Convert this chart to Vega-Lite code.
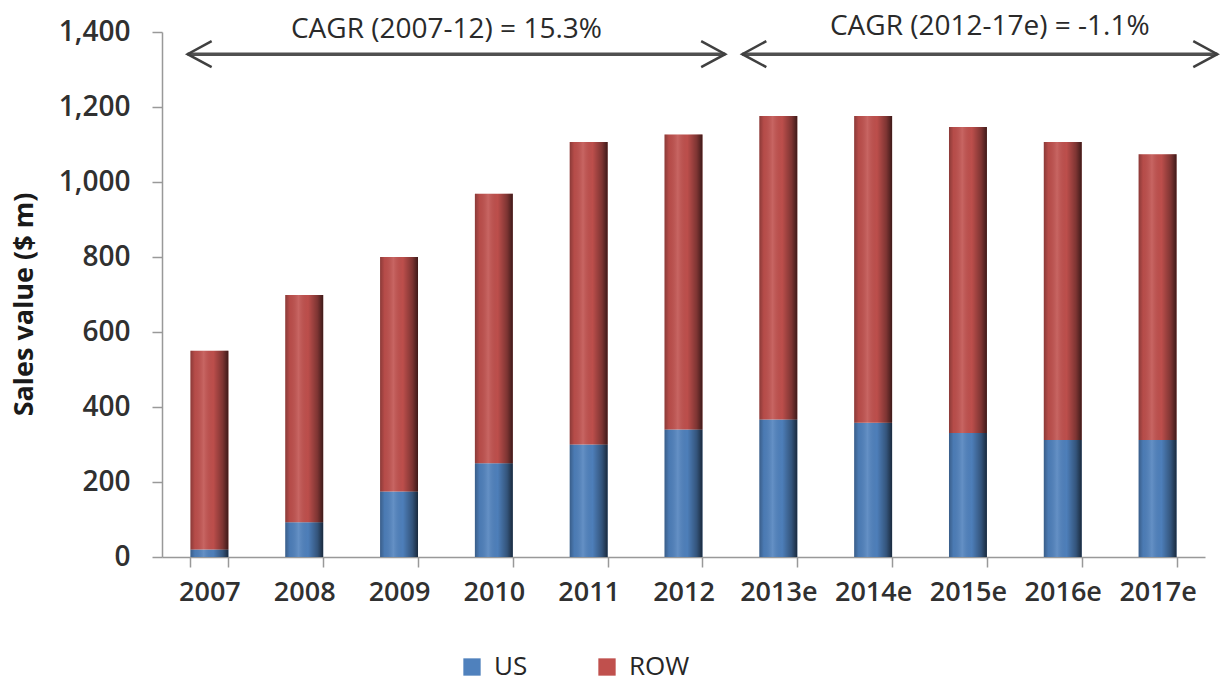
{
  "$schema": "https://vega.github.io/schema/vega-lite/v6.json",
  "width": 1043,
  "height": 525,
  "autosize": {"type": "none"},
  "padding": {"left": 162, "top": 32, "right": 19, "bottom": 134},
  "background": "white",
  "config": {
    "view": {"stroke": null},
    "font": "Open Sans",
    "axis": {"grid": false}
  },
  "datasets": {
    "sales": [
      {"year": "2007", "series": "US", "value": 20},
      {"year": "2007", "series": "ROW", "value": 530},
      {"year": "2008", "series": "US", "value": 93},
      {"year": "2008", "series": "ROW", "value": 606},
      {"year": "2009", "series": "US", "value": 175},
      {"year": "2009", "series": "ROW", "value": 625},
      {"year": "2010", "series": "US", "value": 250},
      {"year": "2010", "series": "ROW", "value": 719},
      {"year": "2011", "series": "US", "value": 300},
      {"year": "2011", "series": "ROW", "value": 807},
      {"year": "2012", "series": "US", "value": 340},
      {"year": "2012", "series": "ROW", "value": 787},
      {"year": "2013e", "series": "US", "value": 367},
      {"year": "2013e", "series": "ROW", "value": 809},
      {"year": "2014e", "series": "US", "value": 358},
      {"year": "2014e", "series": "ROW", "value": 818},
      {"year": "2015e", "series": "US", "value": 331},
      {"year": "2015e", "series": "ROW", "value": 816},
      {"year": "2016e", "series": "US", "value": 312},
      {"year": "2016e", "series": "ROW", "value": 795},
      {"year": "2017e", "series": "US", "value": 312},
      {"year": "2017e", "series": "ROW", "value": 762}
    ],
    "arrows": [
      {"arrow": "a", "pos": 0.27, "y": 1341},
      {"arrow": "a", "pos": 5.94, "y": 1341},
      {"arrow": "b", "pos": 6.12, "y": 1341},
      {"arrow": "b", "pos": 11.13, "y": 1341}
    ],
    "heads": [
      {"pos": 0.27, "y": 1341, "dir": "left"},
      {"pos": 5.94, "y": 1341, "dir": "right"},
      {"pos": 6.12, "y": 1341, "dir": "left"},
      {"pos": 11.13, "y": 1341, "dir": "right"}
    ],
    "labels": [
      {"pos": 3.0, "y": 1405, "text": "CAGR (2007-12) = 15.3%"},
      {"pos": 8.73, "y": 1413, "text": "CAGR (2012-17e) = -1.1%"}
    ]
  },
  "layer": [
    {
      "data": {"name": "sales"},
      "transform": [
        {"stack": "value", "groupby": ["year"], "sort": [{"field": "series", "order": "descending"}], "as": ["v0", "v1"]}
      ],
      "encoding": {
        "x": {
          "field": "year", "type": "nominal",
          "scale": {"paddingInner": 0.6, "paddingOuter": 0.3},
          "axis": {
            "title": null, "labelAngle": 0, "tickBand": "extent",
            "tickSize": 10, "tickColor": "#999", "domainColor": "#999", "domainWidth": 1.5, "tickWidth": 1.5,
            "labelFontSize": 27, "labelFontWeight": 600, "labelColor": "#303030", "labelPadding": 12
          }
        },
        "y": {
          "field": "v1", "type": "quantitative",
          "scale": {"domain": [0, 1400], "nice": false},
          "axis": {
            "title": "Sales value ($ m)", "values": [0, 200, 400, 600, 800, 1000, 1200, 1400], "format": ",.0f",
            "tickSize": 10, "tickColor": "#999", "domainColor": "#999", "domainWidth": 1.5, "tickWidth": 1.5,
            "labelFontSize": 28, "labelFontWeight": 600, "labelColor": "#303030", "labelPadding": 22,
            "titleFontSize": 27, "titleFontWeight": "bold", "titleColor": "#1a1a1a",
            "titleX": -138, "titleY": 272, "titleBaseline": "middle"
          }
        },
        "y2": {"field": "v0"}
      },
      "layer": [
        {
          "mark": {"type": "bar"},
          "encoding": {
            "color": {
              "field": "series", "type": "nominal",
              "scale": {"domain": ["US", "ROW"], "range": ["#4F81BD", "#C0504D"]},
              "legend": {
                "title": null, "orient": "none", "direction": "horizontal",
                "legendX": 297, "legendY": 622,
                "symbolType": "square", "symbolSize": 300, "symbolStrokeWidth": 0, "symbolOpacity": 1,
                "labelFontSize": 26, "labelColor": "#262626", "labelOffset": 9, "columnPadding": 66
              }
            }
          }
        },
        {
          "mark": {
            "type": "bar",
            "fill": {
              "gradient": "linear", "x1": 0, "x2": 1, "y1": 0, "y2": 0,
              "stops": [
                {"offset": 0, "color": "rgba(0,0,0,0.28)"},
                {"offset": 0.12, "color": "rgba(0,0,0,0.05)"},
                {"offset": 0.35, "color": "rgba(255,255,255,0.12)"},
                {"offset": 0.6, "color": "rgba(0,0,0,0.02)"},
                {"offset": 0.85, "color": "rgba(0,0,0,0.35)"},
                {"offset": 1, "color": "rgba(0,0,0,0.68)"}
              ]
            }
          }
        }
      ]
    },
    {
      "layer": [
        {
          "data": {"name": "arrows"},
          "mark": {"type": "line", "color": "#505050", "strokeWidth": 3.5},
          "encoding": {
            "x": {"field": "pos", "type": "quantitative", "scale": {"domain": [0, 11], "nice": false, "zero": false}, "axis": null},
            "y": {"field": "y", "type": "quantitative"},
            "detail": {"field": "arrow"}
          }
        },
        {
          "data": {"name": "heads"},
          "mark": {"type": "point", "filled": false, "strokeWidth": 2.5, "color": "#404040", "opacity": 1},
          "encoding": {
            "x": {"field": "pos", "type": "quantitative", "scale": {"domain": [0, 11], "nice": false, "zero": false}, "axis": null},
            "y": {"field": "y", "type": "quantitative"},
            "shape": {
              "field": "dir", "type": "nominal",
              "scale": {"domain": ["left", "right"], "range": ["M1.85,-1L0,0L1.85,1", "M-1.85,-1L0,0L-1.85,1"]},
              "legend": null
            },
            "size": {"value": 676}
          }
        },
        {
          "data": {"name": "labels"},
          "mark": {"type": "text", "fontSize": 28, "color": "#2a2a2a", "baseline": "middle", "align": "center"},
          "encoding": {
            "x": {"field": "pos", "type": "quantitative", "scale": {"domain": [0, 11], "nice": false, "zero": false}, "axis": null},
            "y": {"field": "y", "type": "quantitative"},
            "text": {"field": "text"}
          }
        }
      ]
    }
  ],
  "resolve": {"scale": {"x": "independent"}}
}
